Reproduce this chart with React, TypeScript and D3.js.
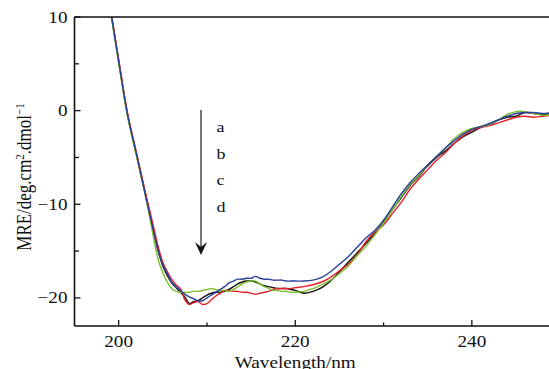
import React from "react";
import * as d3 from "d3";

const wavelengths = [
  199, 200, 201, 202, 203, 203.5, 204, 204.5, 205, 205.5, 206, 206.5, 207, 207.5, 208, 208.5, 209, 209.5,
  210, 210.5, 211, 211.5, 212, 212.5, 213, 213.5, 214, 214.5, 215, 215.5, 216, 216.5, 217, 217.5, 218,
  218.5, 219, 219.5, 220, 221, 222, 223, 224, 225, 226, 227, 228, 229, 230, 231, 232, 233, 234, 235, 236,
  237, 238, 239, 240, 241, 242, 243, 244, 245, 246, 247, 248, 249,
];

const seriesBlack = [
  11.2, 5.3, -0.4, -4.6, -8.8, -10.9, -13.0, -15.0, -16.6, -17.6, -18.4, -18.9, -19.4, -19.9, -20.6, -20.4, -20.3, -20.0,
  -19.7, -19.5, -19.4, -19.4, -19.3, -19.1, -18.8, -18.5, -18.3, -18.2, -18.2, -18.3, -18.5, -18.7, -18.8, -18.9, -19.0,
  -19.0, -19.0, -19.1, -19.2, -19.5, -19.3, -18.9, -18.2, -17.2, -16.2, -15.2, -14.2, -13.1, -11.9, -10.6, -9.3, -8.0, -7.0, -5.9, -5.0,
  -4.3, -3.5, -2.8, -2.3, -1.8, -1.4, -1.0, -0.7, -0.6, -0.2, -0.3, -0.4, -0.3,
];

const seriesRed = [
  11.4, 5.5, -0.2, -4.4, -8.6, -10.6, -12.6, -14.6, -16.2, -17.2, -18.0, -18.6, -19.0, -20.2, -20.7, -20.5, -20.4, -20.7,
  -20.6, -20.2, -19.8, -19.5, -19.2, -19.2, -19.3, -19.3, -19.4, -19.4, -19.5, -19.6, -19.5, -19.4, -19.3, -19.1, -19.0,
  -19.0, -19.0, -19.0, -18.9, -18.8, -18.6, -18.3, -17.8, -17.1, -16.4, -15.4, -14.0, -13.0, -12.2, -11.0, -9.8, -8.4, -7.3, -6.3, -5.3,
  -4.5, -3.5, -2.7, -2.1, -1.8, -1.6, -1.3, -1.0, -0.7, -0.6, -0.7, -0.6, -0.5,
];

const seriesGreen = [
  11.0, 5.1, -0.6, -4.8, -9.0, -11.3, -13.8, -16.0, -17.3, -18.3, -19.0, -19.3, -19.4, -19.4, -19.4, -19.3, -19.3, -19.2,
  -19.1, -19.0, -19.1, -19.2, -19.2, -19.3, -19.1, -18.8, -18.5, -18.3, -18.2, -18.2, -18.5, -18.8, -19.0, -19.2, -19.2,
  -19.3, -19.3, -19.4, -19.4, -19.3, -19.0, -18.6, -18.1, -17.4, -16.6, -15.5, -14.5, -13.3, -12.0, -10.6, -9.2, -7.9, -6.9, -5.8, -4.9,
  -4.0, -3.0, -2.3, -1.9, -1.7, -1.5, -1.0, -0.4, -0.1, -0.1, -0.3, -0.5, -0.4,
];

const seriesBlue = [
  11.2, 5.3, -0.4, -4.6, -8.9, -11.0, -13.1, -15.1, -16.5, -17.4, -18.3, -18.8, -19.2, -19.6, -19.9, -20.1, -20.3, -20.3,
  -20.0, -19.7, -19.4, -19.1, -18.8, -18.4, -18.2, -18.0, -18.0, -17.9, -17.9, -17.7, -17.9, -18.0, -18.0, -18.1, -18.1,
  -18.1, -18.2, -18.2, -18.2, -18.2, -18.1, -17.8, -17.2, -16.4, -15.6, -14.6, -13.6, -12.8, -11.7, -10.3, -8.9, -7.7, -6.7, -5.8, -4.9,
  -4.0, -3.2, -2.5, -2.0, -1.7, -1.4, -1.0, -0.6, -0.3, -0.2, -0.2, -0.3, -0.2,
];

const seriesList = [
  { name: "black", values: seriesBlack, color: "#111111" },
  { name: "red", values: seriesRed, color: "#e3202b" },
  { name: "green", values: seriesGreen, color: "#7cbf2a" },
  { name: "blue", values: seriesBlue, color: "#283f97" },
];

const xMajorTicks = [200, 220, 240];
const xMinorTicks = [210, 230];
const yMajorTicks = [10, 0, -10, -20];
const yMinorTicks = [5, -5, -15];
const annotationLetters = ["a", "b", "c", "d"];

const W = 549;
const H = 369;
const left = 74.5;
const top = 17;
const bottom = 326;

export default function App() {
  const x = d3.scaleLinear().domain([195, 250]).range([left, left + 55 * 8.83]);
  const y = d3.scaleLinear().domain([-23, 10]).range([bottom, top]);
  const line = d3
    .line<[number, number]>()
    .x((d) => x(d[0]))
    .y((d) => y(d[1]))
    .curve(d3.curveCatmullRom.alpha(0.5));

  const fmt = (v: number) => (v < 0 ? "\u2212" + Math.abs(v) : String(v));
  const font = "'Liberation Serif', 'Times New Roman', serif";
  const right = x(250);

  const arrowX = 201;
  const arrowTop = 110;
  const arrowTip = 255;

  return (
    <svg
      width={W}
      height={H}
      style={{ position: "absolute", left: 0, top: 0, background: "#fff" }}
      fontFamily={font}
    >
      <defs>
        <clipPath id="plotClip">
          <rect x={left} y={top} width={right - left} height={bottom - top} />
        </clipPath>
      </defs>

      {/* data lines */}
      <g clipPath="url(#plotClip)">
        {seriesList.map((s) => (
          <path
            key={s.name}
            d={line(wavelengths.map((w, i) => [w, s.values[i]]) as [number, number][]) || ""}
            fill="none"
            stroke={s.color}
            strokeWidth={1.4}
            strokeLinejoin="round"
          />
        ))}
      </g>

      {/* axes */}
      <line x1={left} x2={right} y1={top} y2={top} stroke="#111" strokeWidth={1.6} />
      <line x1={left} x2={right} y1={bottom} y2={bottom} stroke="#111" strokeWidth={1.6} />
      <line x1={left} x2={left} y1={top} y2={bottom} stroke="#111" strokeWidth={1.6} />

      {xMajorTicks.map((t) => (
        <g key={"xm" + t}>
          <line x1={x(t)} x2={x(t)} y1={bottom} y2={bottom - 6} stroke="#111" strokeWidth={1.3} />
          <text
            transform={`translate(${x(t)},347) scale(1.2,1)`}
            textAnchor="middle"
            fontSize={16}
            fill="#111"
          >
            {t}
          </text>
        </g>
      ))}
      {xMinorTicks.map((t) => (
        <line key={"xn" + t} x1={x(t)} x2={x(t)} y1={bottom} y2={bottom - 3.5} stroke="#111" strokeWidth={1.3} />
      ))}

      {yMajorTicks.map((t) => (
        <g key={"ym" + t}>
          <line x1={left} x2={left + 6} y1={y(t)} y2={y(t)} stroke="#111" strokeWidth={1.3} />
          <text
            transform={`translate(67.5,${y(t) + 5.5}) scale(1.2,1)`}
            textAnchor="end"
            fontSize={16}
            fill="#111"
          >
            {fmt(t)}
          </text>
        </g>
      ))}
      {yMinorTicks.map((t) => (
        <line key={"yn" + t} x1={left} x2={left + 4.5} y1={y(t)} y2={y(t)} stroke="#111" strokeWidth={1.3} />
      ))}

      {/* axis titles */}
      <text
        transform={`translate(${x(220)},368) scale(1.2,1)`}
        textAnchor="middle"
        fontSize={16}
        fill="#111"
      >
        Wavelength/nm
      </text>
      <text
        transform={`translate(31,177) scale(1.2,1) rotate(-90)`}
        textAnchor="middle"
        fontSize={17}
        fill="#111"
      >
        MRE/deg.cm
        <tspan dy={-6} fontSize={11}>
          2
        </tspan>
        <tspan dy={6}>.dmol</tspan>
        <tspan dy={-6} fontSize={11}>
          {"\u22121"}
        </tspan>
      </text>

      {/* arrow annotation */}
      <line x1={arrowX} x2={arrowX} y1={arrowTop} y2={arrowTip - 6} stroke="#555" strokeWidth={1.6} />
      <path
        d={`M${arrowX},${arrowTip} L${arrowX - 6},${arrowTip - 13} L${arrowX},${arrowTip - 8} L${arrowX + 6},${arrowTip - 13} Z`}
        fill="#111"
      />
      {annotationLetters.map((l, i) => (
        <text
          key={l}
          transform={`translate(216.5,${132 + i * 26.7}) scale(1.2,1)`}
          fontSize={15}
          fill="#111"
        >
          {l}
        </text>
      ))}
    </svg>
  );
}
